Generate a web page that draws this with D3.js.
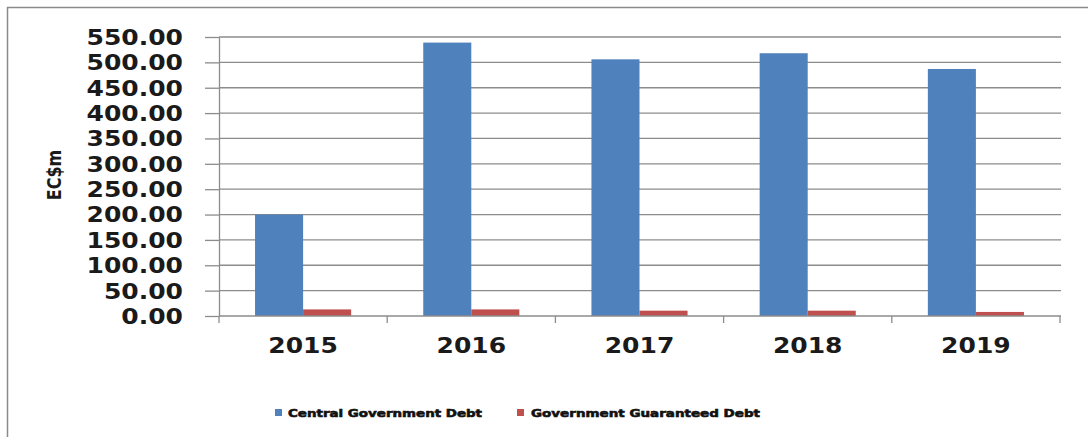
<!DOCTYPE html>
<html>
<head>
<meta charset="utf-8">
<script src="https://cdn.jsdelivr.net/npm/d3@7"></script>
<style>
  html, body { margin: 0; padding: 0; background: #fff; }
  svg { display: block; }
</style>
</head>
<body>
<svg id="chart" width="1088" height="437"></svg>
<script>
const years = ["2015", "2016", "2017", "2018", "2019"];
const seriesNames = ["Central Government Debt", "Government Guaranteed Debt"];
const centralDebt = [200, 539, 506, 518, 487];
const guaranteedDebt = [13, 13, 10.5, 10.5, 8];
const yTicks = [0, 50, 100, 150, 200, 250, 300, 350, 400, 450, 500, 550];
const colors = ["#4F81BD", "#C0504D"];

const svg = d3.select("#chart");
const W = 1088, H = 437;
const plot = { left: 219, right: 1060, top: 37, bottom: 316 };
const SX = 1.22; // horizontal stretch of the source image text
const font = "'DejaVu Sans', Verdana, sans-serif";

// frame (top + left edges visible)
svg.append("line").attr("x1", 7).attr("x2", W).attr("y1", 7.5).attr("y2", 7.5)
  .attr("stroke", "#8a8a8a").attr("stroke-width", 1.5);
svg.append("line").attr("x1", 7.5).attr("x2", 7.5).attr("y1", 7).attr("y2", H)
  .attr("stroke", "#8a8a8a").attr("stroke-width", 1.5);

const x = d3.scaleBand().domain(years).range([plot.left, plot.right]).paddingInner(0).paddingOuter(0);
const xs = d3.scaleBand().domain(seriesNames).range([0, x.bandwidth()]).paddingInner(0).paddingOuter(0.75);
const y = d3.scaleLinear().domain([0, 550]).range([plot.bottom, plot.top]);

// gridlines
svg.append("g").selectAll("line").data(yTicks.filter(d => d > 0)).join("line")
  .attr("x1", plot.left).attr("x2", plot.right + 1)
  .attr("y1", d => y(d)).attr("y2", d => y(d))
  .attr("stroke", "#8c8c8c").attr("stroke-width", 1.3);

// y axis
const yAxis = svg.append("g").attr("transform", `translate(${plot.left},0)`)
  .call(d3.axisLeft(y).tickValues(yTicks).tickFormat(d3.format(".2f")).tickSize(14).tickSizeOuter(0));
yAxis.select(".domain").attr("stroke", "#8c8c8c").attr("stroke-width", 1.3);
yAxis.selectAll(".tick line").attr("stroke", "#8c8c8c").attr("stroke-width", 1.3);
yAxis.selectAll(".tick text")
  .attr("x", -36 / SX).attr("dy", "0.36em")
  .attr("transform", `scale(${SX},1)`)
  .style("font-family", font).style("font-weight", "bold").style("font-size", "20.5px").attr("fill", "#1a1a1a");

// bars
const data = years.map((yr, i) => ({ year: yr, values: [centralDebt[i], guaranteedDebt[i]] }));
const groups = svg.append("g").selectAll("g").data(data).join("g")
  .attr("transform", d => `translate(${x(d.year)},0)`);
groups.selectAll("rect").data(d => d.values.map((v, j) => ({ name: seriesNames[j], v, j }))).join("rect")
  .attr("x", d => xs(d.name)).attr("width", xs.bandwidth())
  .attr("y", d => y(d.v)).attr("height", d => y(0) - y(d.v))
  .attr("fill", d => colors[d.j]);

// x axis
const xAxis = svg.append("g").attr("transform", `translate(0,${plot.bottom})`);
xAxis.append("line").attr("x1", plot.left).attr("x2", plot.right + 1).attr("y1", 0).attr("y2", 0)
  .attr("stroke", "#8c8c8c").attr("stroke-width", 1.3);
const boundaries = years.map(yv => x(yv) + x.bandwidth());
xAxis.selectAll("line.tk").data([plot.left, ...boundaries]).join("line").attr("class", "tk")
  .attr("x1", d => d).attr("x2", d => d).attr("y1", 0).attr("y2", 7)
  .attr("stroke", "#8c8c8c").attr("stroke-width", 1.3);
xAxis.selectAll("text").data(years).join("text")
  .attr("transform", d => `translate(${x(d) + x.bandwidth() / 2},37) scale(${SX},1)`)
  .attr("text-anchor", "middle")
  .style("font-family", font).style("font-weight", "bold").style("font-size", "20.5px").attr("fill", "#1a1a1a")
  .text(d => d);

// y axis title
svg.append("text")
  .attr("transform", `translate(61,175) scale(${SX},1) rotate(-90)`)
  .attr("text-anchor", "middle")
  .style("font-family", font).style("font-weight", "bold").style("font-size", "16px").attr("fill", "#1a1a1a")
  .text("EC$m");

// legend
const legendItems = [
  { name: seriesNames[0], color: colors[0], sx: 275, tx: 288, len: 194 },
  { name: seriesNames[1], color: colors[1], sx: 517, tx: 531, len: 229 }
];
const lg = svg.append("g");
legendItems.forEach(it => {
  lg.append("rect").attr("x", it.sx).attr("y", 409).attr("width", 7).attr("height", 7).attr("fill", it.color);
  lg.append("text").attr("x", it.tx).attr("y", 417)
    .attr("textLength", it.len).attr("lengthAdjust", "spacingAndGlyphs")
    .style("font-family", font).style("font-weight", "bold").style("font-size", "11px")
    .attr("fill", "#111").attr("stroke", "#111").attr("stroke-width", 0.6)
    .text(it.name);
});
</script>
</body>
</html>
